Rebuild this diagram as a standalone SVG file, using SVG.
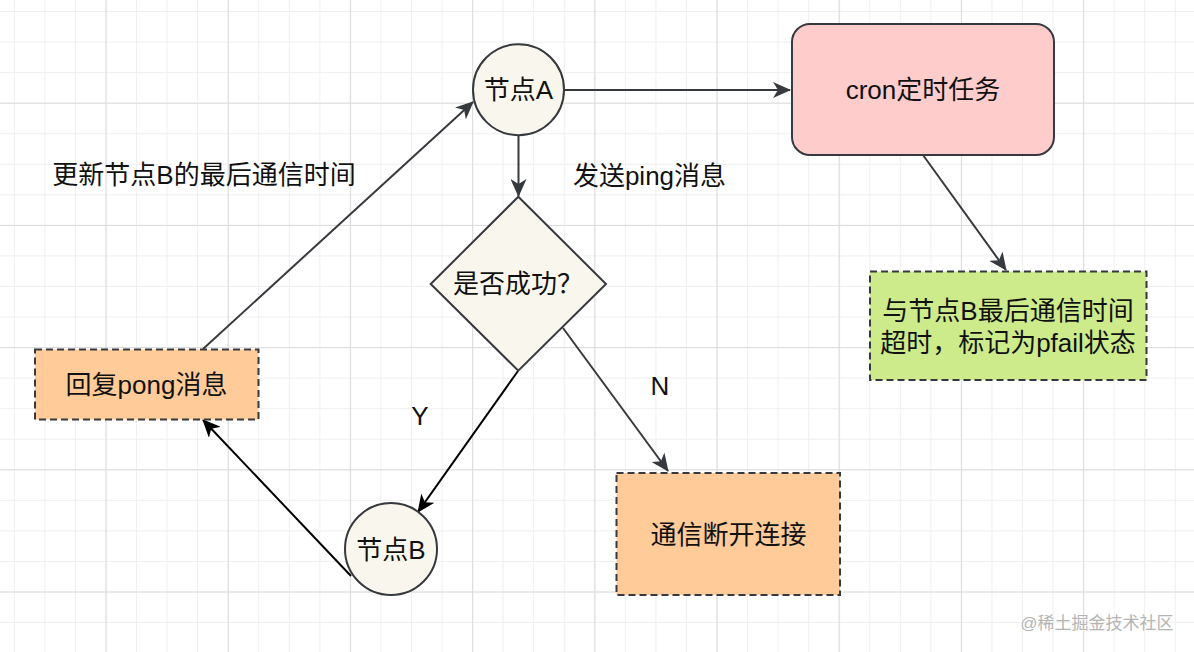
<svg xmlns="http://www.w3.org/2000/svg" width="1194" height="652" viewBox="0 0 1194 652">
<style>
text{font-family:"Liberation Sans","Noto Sans CJK SC",sans-serif;font-size:26px;fill:#111;text-anchor:middle;dominant-baseline:central}
.shape{stroke:#36393d;stroke-width:2}
.dash{stroke-dasharray:7 4}
.conn{fill:none;stroke:#36393d;stroke-width:2}
.connk{fill:none;stroke:#000;stroke-width:2}
</style>
<defs>
<pattern id="minor" x="-16.7" y="-19.5" width="30.55" height="30.55" patternUnits="userSpaceOnUse">
<path d="M0.5 0V30.55M0 0.5H30.55" stroke="#efefef" stroke-width="1" fill="none"/>
</pattern>
<pattern id="major" x="-16.7" y="-19.5" width="122.2" height="122.2" patternUnits="userSpaceOnUse">
<path d="M0.5 0V122.2M0 0.5H122.2" stroke="#dcdcdc" stroke-width="1.2" fill="none"/>
</pattern>
<marker id="ag" viewBox="0 0 18 16" refX="17" refY="8" markerWidth="18" markerHeight="16" markerUnits="userSpaceOnUse" orient="auto">
<path d="M0,0 L18,8 L0,16 L5,8 Z" fill="#36393d"/>
</marker>
<marker id="ak" viewBox="0 0 18 16" refX="17" refY="8" markerWidth="18" markerHeight="16" markerUnits="userSpaceOnUse" orient="auto">
<path d="M0,0 L18,8 L0,16 L5,8 Z" fill="#000"/>
</marker>
</defs>
<rect width="1194" height="652" fill="#fff"/>
<rect width="1194" height="652" fill="url(#minor)"/>
<rect width="1194" height="652" fill="url(#major)"/>

<g id="connectors">
<line class="conn" x1="564" y1="90" x2="790" y2="90" marker-end="url(#ag)"/>
<line class="conn" x1="518.5" y1="136" x2="518.5" y2="196" marker-end="url(#ag)"/>
<line class="conn" x1="923" y1="155" x2="1006" y2="270" marker-end="url(#ag)"/>
<line class="conn" x1="203" y1="349" x2="473" y2="102" marker-end="url(#ag)"/>
<line class="connk" x1="518" y1="371" x2="418" y2="512" marker-end="url(#ak)"/>
<line class="conn" x1="563" y1="328" x2="668" y2="471" marker-end="url(#ag)"/>
<line class="connk" x1="351" y1="576" x2="203" y2="420" marker-end="url(#ak)"/>
</g>

<g id="nodeA">
<circle class="shape" cx="518.5" cy="89.7" r="45.5" fill="#f9f7ed"/>
<text x="518.5" y="90">节点A</text>
</g>
<g id="cron">
<rect class="shape" x="792" y="24" width="262" height="131" rx="18" fill="#ffcccc"/>
<text x="923" y="90">cron定时任务</text>
</g>
<g id="timeout">
<rect class="shape dash" x="870" y="271.5" width="276.5" height="108.5" fill="#cdeb8b"/>
<text x="1008" y="311">与节点B最后通信时间</text>
<text x="1008" y="343">超时，标记为pfail状态</text>
</g>
<g id="decision">
<polygon class="shape" points="518.3,196.7 606,284 518.3,370.7 430.7,284" fill="#f9f7ed"/>
<text x="518" y="284">是否成功？</text>
</g>
<g id="pong">
<rect class="shape dash" x="35" y="349.5" width="223.5" height="70" fill="#ffcc99"/>
<text x="146.5" y="385">回复pong消息</text>
</g>
<g id="nodeB">
<circle class="shape" cx="391" cy="549" r="46" fill="#f9f7ed"/>
<text x="391" y="550">节点B</text>
</g>
<g id="disconnect">
<rect class="shape dash" x="616.5" y="473" width="223.5" height="122" fill="#ffcc99"/>
<text x="728.5" y="535">通信断开连接</text>
</g>

<g id="labels">
<text x="204" y="175">更新节点B的最后通信时间</text>
<text x="649.5" y="176">发送ping消息</text>
<text x="420" y="416">Y</text>
<text x="660" y="386">N</text>
<text x="1097" y="623" style="font-size:17px;fill:#b4b4b4">@稀土掘金技术社区</text>
</g>
</svg>
